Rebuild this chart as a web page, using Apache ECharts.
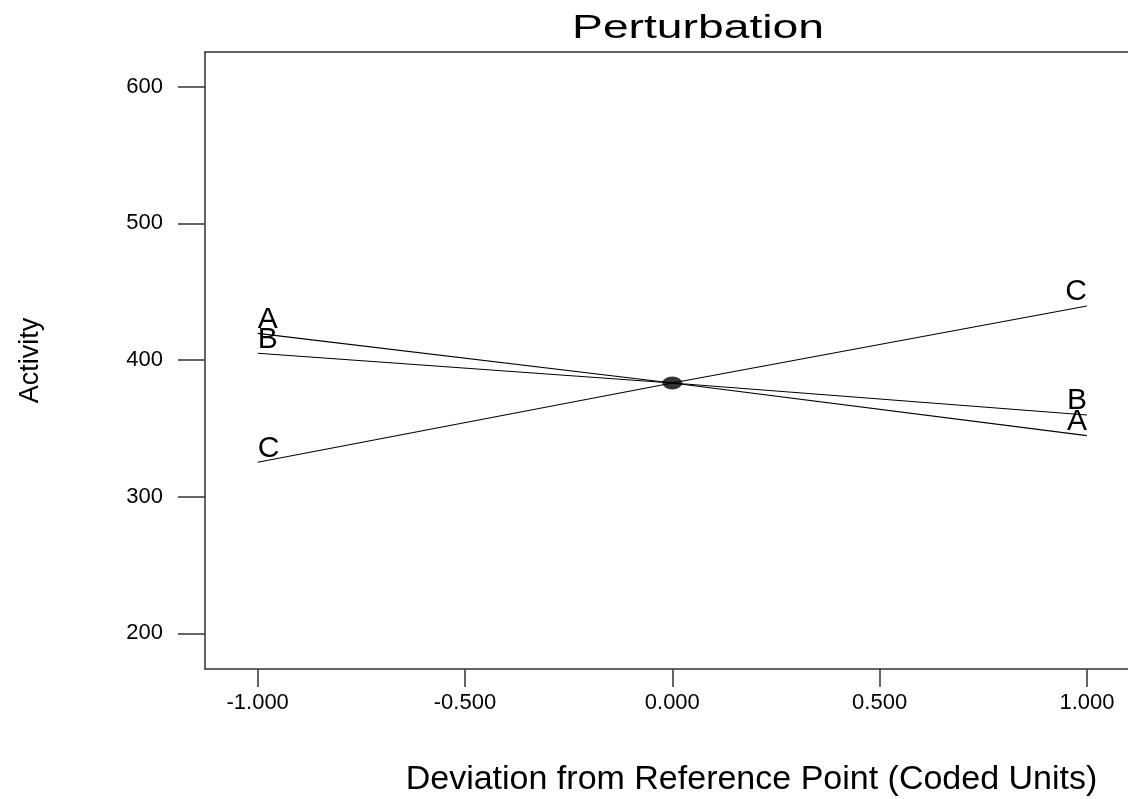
<!DOCTYPE html>
<html>
<head>
<meta charset="utf-8">
<script src="https://cdn.jsdelivr.net/npm/echarts@6/dist/echarts.min.js"></script>
<style>
html,body{margin:0;padding:0;background:#fff;}
#chart{width:1128px;height:799px;}
</style>
</head>
<body>
<div id="chart"></div>
<script>
// ---- data ----
const titleText = 'Perturbation';
const xAxisName = 'Deviation from Reference Point (Coded Units)';
const yAxisName = 'Activity';
const xValues = [-1, 0, 1];
const seriesNames = ['A', 'B', 'C'];
const seriesA = [419.5, 383.2, 344.7];
const seriesB = [404.9, 383.2, 359.8];
const seriesC = [325.2, 383.2, 439.5];
const referencePoint = [0, 383.2];
const xTickValues = [-1, -0.5, 0, 0.5, 1];
const xTickLabels = ['-1.000', '-0.500', '0.000', '0.500', '1.000'];
const yTickValues = [200, 300, 400, 500, 600];
const yTickLabels = ['200', '300', '400', '500', '600'];

const FONT = '"Liberation Sans", Arial, Helvetica, sans-serif';
const AXIS_COLOR = '#333';

function buildSeries(name, values) {
  const n = values.length;
  return {
    name: name,
    type: 'line',
    symbol: 'circle',
    symbolSize: 0,
    lineStyle: { color: '#000', width: 1.1 },
    itemStyle: { color: '#000' },
    emphasis: { disabled: true },
    z: 3,
    data: values.map((v, i) => {
      const item = { value: [xValues[i], v] };
      if (i === 0 || i === n - 1) {
        item.label = {
          show: true,
          formatter: name,
          position: 'top',
          align: i === 0 ? 'left' : 'right',
          distance: -1,
          color: '#000',
          fontSize: 30,
          fontFamily: FONT
        };
      }
      return item;
    })
  };
}

const chart = echarts.init(document.getElementById('chart'), null, { renderer: 'canvas' });

const option = {
  animation: false,
  backgroundColor: '#fff',
  grid: { left: 205, top: 52, right: 0, bottom: 130, containLabel: false, outerBoundsMode: 'none' },
  graphic: [
    {
      type: 'text',
      x: 698,
      y: 29,
      scaleX: 1.36,
      style: {
        text: titleText,
        font: '34px ' + FONT,
        fill: '#000',
        textAlign: 'center',
        textVerticalAlign: 'middle'
      }
    }
  ],
  xAxis: [
    {
      type: 'value',
      min: -1.127,
      max: 1.099,
      position: 'bottom',
      name: xAxisName,
      nameLocation: 'middle',
      nameGap: 94,
      nameTextStyle: {
        color: '#000',
        fontSize: 34,
        fontFamily: FONT,
        padding: [0, 0, 0, 170]
      },
      axisLine: { show: true, onZero: false, lineStyle: { color: AXIS_COLOR, width: 1.5 } },
      axisTick: { show: true, customValues: xTickValues, length: 18, lineStyle: { color: AXIS_COLOR, width: 1.5 } },
      axisLabel: {
        show: true,
        customValues: xTickValues,
        margin: 23,
        color: '#000',
        fontSize: 22,
        fontFamily: FONT,
        formatter: v => {
          const i = xTickValues.findIndex(t => Math.abs(t - v) < 1e-9);
          return i >= 0 ? xTickLabels[i] : '';
        }
      },
      splitLine: { show: false }
    },
    {
      type: 'value',
      min: -1.127,
      max: 1.099,
      position: 'top',
      axisLine: { show: true, onZero: false, lineStyle: { color: AXIS_COLOR, width: 1.5 } },
      axisTick: { show: false },
      axisLabel: { show: false },
      splitLine: { show: false }
    }
  ],
  yAxis: {
    type: 'value',
    min: 173.9,
    max: 625.4,
    name: yAxisName,
    nameLocation: 'middle',
    nameGap: 161,
    nameTextStyle: { color: '#000', fontSize: 27, fontFamily: FONT },
    axisLine: { show: true, onZero: false, lineStyle: { color: AXIS_COLOR, width: 1.5 } },
    axisTick: { show: true, customValues: yTickValues, length: 27, lineStyle: { color: AXIS_COLOR, width: 1.5 } },
    axisLabel: {
      show: true,
      customValues: yTickValues,
      margin: 42,
      color: '#000',
      fontSize: 22,
      fontFamily: FONT,
      formatter: v => {
        const i = yTickValues.findIndex(t => Math.abs(t - v) < 1e-9);
        return i >= 0 ? yTickLabels[i] : '';
      }
    },
    splitLine: { show: false }
  },
  series: [
    buildSeries(seriesNames[0], seriesA),
    buildSeries(seriesNames[1], seriesB),
    buildSeries(seriesNames[2], seriesC),
    {
      name: 'Reference',
      type: 'scatter',
      symbol: 'circle',
      symbolSize: [20, 13],
      itemStyle: { color: '#000' },
      emphasis: { disabled: true },
      z: 5,
      data: [referencePoint]
    }
  ]
};

chart.setOption(option);
</script>
</body>
</html>
